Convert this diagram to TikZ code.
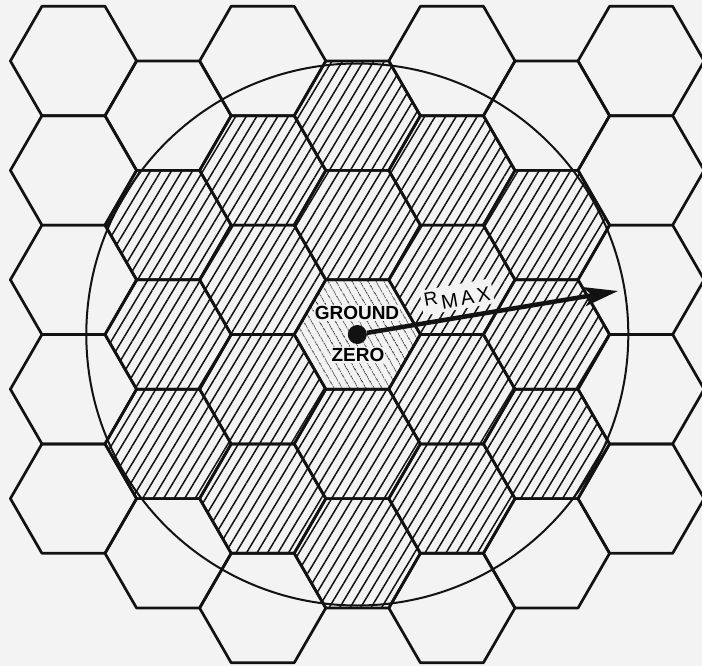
\documentclass[tikz,border=0pt]{standalone}
\usepackage{fontspec}
\setmainfont{Liberation Sans}
\newfontfamily\rmaxfont[LetterSpace=15,Kerning=Off]{Liberation Sans}
\definecolor{PaperGrey}{RGB}{243,243,243}
\definecolor{InkBlack}{RGB}{18,18,18}
\definecolor{HatchGrey}{RGB}{70,70,70}
\usetikzlibrary{arrows.meta,patterns.meta}
\tikzset{
  hexline/.style={InkBlack,line width=2.7pt,line join=round},
  ringline/.style={InkBlack,line width=2pt},
  hatchfill/.style={pattern={Lines[angle=59,distance=9pt,line width=1.5pt]},pattern color=InkBlack},
  gzfill/.style={pattern={Lines[angle=120,distance=6.5pt,line width=0.9pt]},pattern color=HatchGrey},
  gzlabel/.style={font=\bfseries\fontsize{19}{19}\selectfont,fill=PaperGrey,inner sep=1pt},
}
% hexagon (flat top) in column #1, row #2
\newcommand{\hexat}[2]{({73.5+94.6*#1},{61+54.7*mod(#1,2)+109.4*#2}) ++(-63.1,0)
  -- ++(31.55,54.7) -- ++(63.1,0) -- ++(31.55,-54.7) -- ++(-31.55,-54.7) -- ++(-63.1,0) -- cycle}

\begin{document}
\begin{tikzpicture}[x=1pt,y=-1pt]
\useasboundingbox (0,0) rectangle (702,666);
\clip (0,0) rectangle (702,666);
\fill[PaperGrey] (0,0) rectangle (702,666);
% hatched cells inside the circle
\foreach \c/\k in {1/1,1/2,1/3,2/1,2/2,2/3,2/4,3/0,3/1,3/3,3/4,4/1,4/2,4/3,4/4,5/1,5/2,5/3}
  \path[hatchfill] \hexat{\c}{\k};
% ground zero cell
\path[gzfill] \hexat{3}{2};
% hex grid
\foreach \c/\kmax in {0/4,1/4,2/5,3/4,4/5,5/4,6/4}
  \foreach \k in {0,...,\kmax}
    \draw[hexline] \hexat{\c}{\k};
% ground zero
\node[circle,fill=InkBlack,minimum size=19pt,inner sep=0pt] (gz) at (357.3,334.5) {};
\draw[ringline] (gz.center) circle[radius=271];
\node[gzlabel] (ground) at (357,313) {GROUND};
\node[gzlabel] (zero) at (358,355) {ZERO};
% R max
\node[font=\rmaxfont\fontsize{19}{19}\selectfont,fill=PaperGrey,inner sep=3pt,rotate=10] (rmax) at (457,297) {R\kern3pt\raisebox{-6pt}{\fontsize{20}{20}\selectfont MAX}};
\coordinate (tip) at (618,291);
\draw[InkBlack,line width=4.5pt,-{Stealth[length=34pt,width=19pt,inset=8pt]}] (gz) -- (tip);
\end{tikzpicture}
\end{document}
